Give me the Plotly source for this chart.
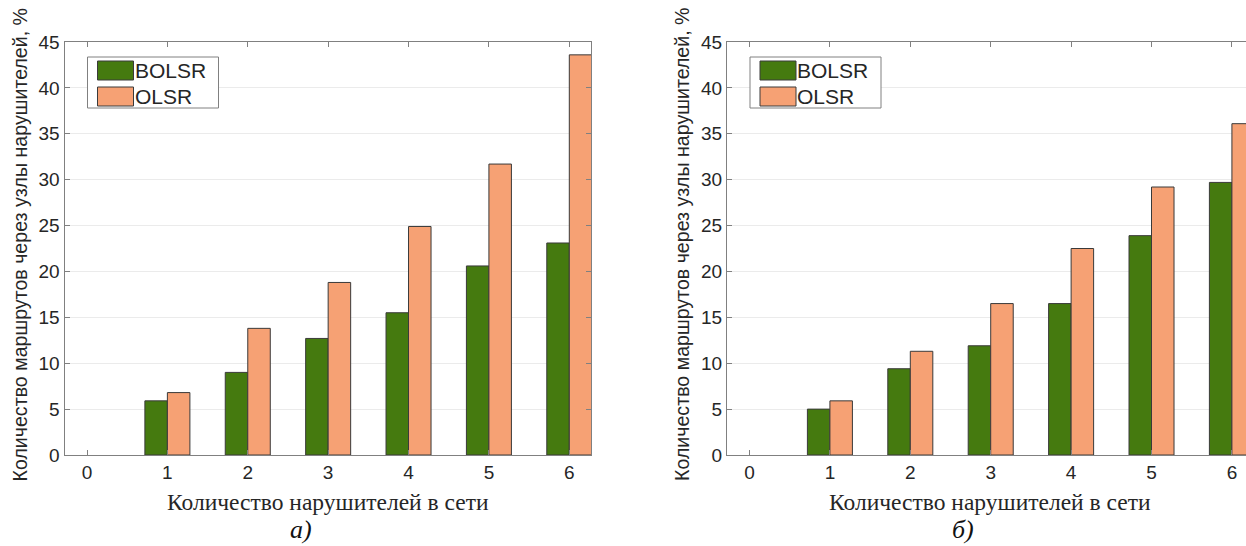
import plotly.graph_objects as go

W, H = 1246, 546

tick_positions = [0, 1, 2, 3, 4, 5, 6]
intruders = [1, 2, 3, 4, 5, 6]
bolsr_a = [5.9, 9.0, 12.7, 15.5, 20.6, 23.1]
olsr_a = [6.8, 13.8, 18.8, 24.9, 31.7, 43.6]
bolsr_b = [5.0, 9.4, 11.9, 16.5, 23.9, 29.7]
olsr_b = [5.9, 11.3, 16.5, 22.5, 29.2, 36.1]
series_names = ["BOLSR", "OLSR"]
y_ticks = [0, 5, 10, 15, 20, 25, 30, 35, 40, 45]
x_title = "Количество нарушителей в сети"
y_title = "Количество маршрутов через узлы нарушителей, %"
captions = ["а)", "б)"]

GREEN = "#457A0F"
ORANGE = "#F6A174"
EDGE = "#3a3a3a"
AXC = "#808080"
TXT = "#262626"

def px(x):
    return x / W

def py(y):
    return 1 - y / H

fig = go.Figure()

panels = [
    dict(xa="x", ya="y", b=bolsr_a, o=olsr_a, dom=[px(64.5), px(591)], rng=[-0.28, 6.27], left=64.5),
    dict(xa="x2", ya="y2", b=bolsr_b, o=olsr_b, dom=[px(727), 1.0], rng=[-0.28, -0.28 + (1246 - 727) / 80.4], left=727),
]

for i, p in enumerate(panels):
    for name, vals, col in [(series_names[0], p["b"], GREEN), (series_names[1], p["o"], ORANGE)]:
        fig.add_trace(go.Bar(
            x=intruders, y=vals, name=name, xaxis=p["xa"], yaxis=p["ya"],
            marker=dict(color=col, line=dict(color=EDGE, width=1)),
            showlegend=False,
        ))

ydom = [py(455), py(42)]
common_x = dict(tickvals=tick_positions, ticks="inside", ticklen=5, tickcolor=AXC,
                showline=True, linecolor=AXC, linewidth=1, mirror="ticks",
                showgrid=False, zeroline=False, automargin=False,
                tickfont=dict(family="Liberation Sans", size=19, color=TXT))
common_y = dict(range=[0, 45], tickvals=y_ticks, ticks="inside", ticklen=5, tickcolor=AXC,
                showline=True, linecolor=AXC, linewidth=1, automargin=False,
                showgrid=True, gridcolor="#ebebeb", gridwidth=1, zeroline=False,
                tickfont=dict(family="Liberation Sans", size=19, color=TXT))

fig.update_layout(
    width=W, height=H, margin=dict(l=0, r=0, t=0, b=0, pad=0, autoexpand=False),
    paper_bgcolor="white", plot_bgcolor="white", showlegend=False,
    barmode="group", bargap=0.44, bargroupgap=0,
    xaxis=dict(domain=panels[0]["dom"], range=panels[0]["rng"], anchor="y", **common_x),
    yaxis=dict(domain=ydom, anchor="x", mirror="ticks", **common_y),
    xaxis2=dict(domain=panels[1]["dom"], range=panels[1]["rng"], anchor="y2", **common_x),
    yaxis2=dict(domain=ydom, anchor="x2", mirror=False, **common_y),
)

annotations = []
shapes = []
centers = [328, 990]
for i, p in enumerate(panels):
    L = p["left"]
    annotations.append(dict(x=px(L - 45), y=py(245), xref="paper", yref="paper",
                            text=y_title, textangle=-90, showarrow=False,
                            xanchor="center", yanchor="middle",
                            font=dict(family="Liberation Sans", size=19.6, color=TXT)))
    annotations.append(dict(x=px(centers[i]), y=py(502), xref="paper", yref="paper",
                            text=x_title, showarrow=False, xanchor="center", yanchor="middle",
                            font=dict(family="Liberation Serif", size=23.5, color=TXT)))
    annotations.append(dict(x=px(centers[i] - 27), y=0, xref="paper", yref="paper",
                            text="<i>" + captions[i] + "</i>", showarrow=False,
                            xanchor="center", yanchor="bottom",
                            font=dict(family="Liberation Serif", size=26, color="#111111")))
    bx0, bx1, by0, by1 = L + 23, L + 154, 57, 108
    shapes.append(dict(type="rect", xref="paper", yref="paper",
                       x0=px(bx0), x1=px(bx1), y0=py(by1), y1=py(by0),
                       line=dict(color=AXC, width=1), fillcolor="white", layer="above"))
    for j, (name, col) in enumerate(zip(series_names, [GREEN, ORANGE])):
        sy0 = 61 + j * 26
        shapes.append(dict(type="rect", xref="paper", yref="paper",
                           x0=px(L + 33), x1=px(L + 69), y0=py(sy0 + 19), y1=py(sy0),
                           line=dict(color=EDGE, width=1), fillcolor=col, layer="above"))
        annotations.append(dict(x=px(L + 68), y=py(sy0 + 9.5), xref="paper", yref="paper",
                                text=name, showarrow=False, xanchor="left", yanchor="middle",
                                font=dict(family="Liberation Sans", size=21, color=TXT)))

fig.update_layout(annotations=annotations, shapes=shapes)
fig.write_html("out.html")
